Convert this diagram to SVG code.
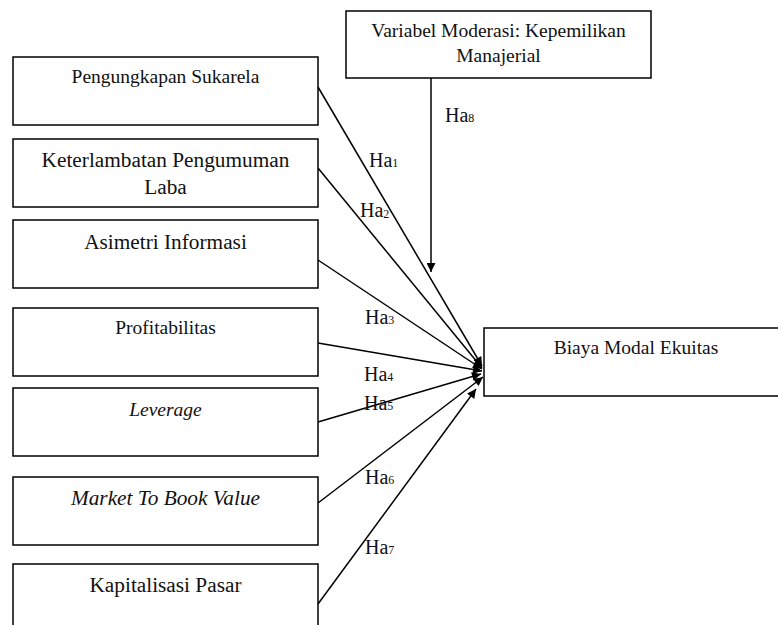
<svg xmlns="http://www.w3.org/2000/svg" width="778" height="625" viewBox="0 0 778 625">
<defs>
<marker id="ah" viewBox="0 0 10 10" refX="10" refY="5" markerWidth="11" markerHeight="9" markerUnits="userSpaceOnUse" orient="auto">
<path d="M0,0 L10,5 L0,10 z" fill="#000"/>
</marker>
</defs>
<style>
.box{fill:#fff;stroke:#000;stroke-width:1.5}
.c{stroke:#000;stroke-width:1.5;fill:none;marker-end:url(#ah)}
text{font-family:"Liberation Serif","Times New Roman",serif;fill:#111}
.t{text-anchor:middle;font-size:19.5px}
.big{font-size:21.3px}
.i{font-style:italic}
.lbl{font-size:20px}
.sub{font-size:12px}
</style>
<rect width="778" height="625" fill="#fff"/>
<g id="connectors">
<line class="c" x1="318" y1="87" x2="482" y2="366"/>
<line class="c" x1="318" y1="168" x2="482" y2="368"/>
<line class="c" x1="318" y1="260" x2="482" y2="369"/>
<line class="c" x1="318" y1="343" x2="482" y2="371"/>
<line class="c" x1="318" y1="422" x2="481" y2="374"/>
<line class="c" x1="318" y1="503" x2="483" y2="377"/>
<line class="c" x1="318" y1="604" x2="476" y2="389"/>
<line class="c" x1="431" y1="78" x2="431" y2="272"/>
</g>
<g id="labels">
<text class="lbl" x="369" y="167">Ha<tspan class="sub" dy="0">1</tspan></text>
<text class="lbl" x="360" y="217">Ha<tspan class="sub" dy="1">2</tspan></text>
<text class="lbl" x="365" y="324">Ha<tspan class="sub" dy="0">3</tspan></text>
<text class="lbl" x="364" y="381">Ha<tspan class="sub" dy="0">4</tspan></text>
<text class="lbl" x="364" y="410">Ha<tspan class="sub" dy="0">5</tspan></text>
<text class="lbl" x="365" y="484">Ha<tspan class="sub" dy="0">6</tspan></text>
<text class="lbl" x="365" y="554">Ha<tspan class="sub" dy="0">7</tspan></text>
<text class="lbl" x="445" y="122">Ha<tspan class="sub" dy="0">8</tspan></text>
</g>
<g id="moderasi">
<rect class="box" x="346" y="11" width="305" height="67"/>
<text class="t" x="498.5" y="37">Variabel Moderasi: Kepemilikan</text>
<text class="t" x="498.5" y="62">Manajerial</text>
</g>
<g id="pengungkapan">
<rect class="box" x="13" y="57" width="305" height="68"/>
<text class="t" x="165.5" y="83">Pengungkapan Sukarela</text>
</g>
<g id="keterlambatan">
<rect class="box" x="13" y="139" width="305" height="68"/>
<text class="t big" x="165.5" y="167">Keterlambatan Pengumuman</text>
<text class="t big" x="165.5" y="194">Laba</text>
</g>
<g id="asimetri">
<rect class="box" x="13" y="220" width="305" height="68"/>
<text class="t big" x="165.5" y="249">Asimetri Informasi</text>
</g>
<g id="profitabilitas">
<rect class="box" x="13" y="308" width="305" height="68"/>
<text class="t" x="165.5" y="334">Profitabilitas</text>
</g>
<g id="leverage">
<rect class="box" x="13" y="388" width="305" height="68"/>
<text class="t i" x="165.5" y="416">Leverage</text>
</g>
<g id="mtbv">
<rect class="box" x="13" y="477" width="305" height="68"/>
<text class="t big i" x="165.5" y="505">Market To Book Value</text>
</g>
<g id="kapitalisasi">
<rect class="box" x="13" y="564" width="305" height="80"/>
<text class="t big" x="165.5" y="592">Kapitalisasi Pasar</text>
</g>
<g id="biaya">
<rect class="box" x="484" y="328" width="310" height="68"/>
<text class="t" x="636" y="354">Biaya Modal Ekuitas</text>
</g>
</svg>
